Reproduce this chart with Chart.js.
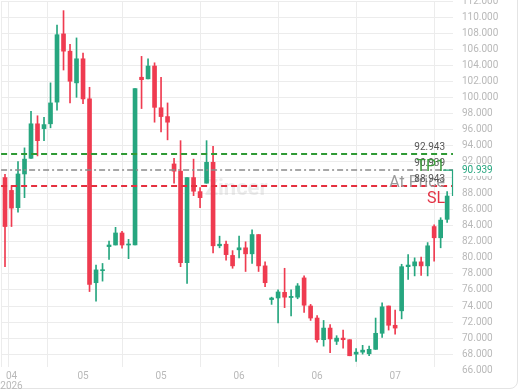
<!DOCTYPE html>
<html>
<head>
<meta charset="utf-8">
<script src="https://cdn.jsdelivr.net/npm/chart.js@4.4.1/dist/chart.umd.min.js"></script>
<style>
  html, body { margin: 0; padding: 0; background: #fff; }
  #frame { position: relative; width: 520px; height: 390px; overflow: hidden; }
  #card { position: absolute; left: -12px; top: -12px; width: 530px; height: 401px; border: 1px solid #e4e4e4; border-radius: 8px; box-sizing: border-box; }
  #wrap { position: absolute; left: 0; top: -14px; width: 520px; height: 410px; }
</style>
</head>
<body>
<div id="frame">
  <div id="card"></div>
  <div id="wrap"><canvas id="chart"></canvas></div>
</div>
<script>
// candles, left to right
const OPEN  = [90.0, 88.4, 86.25, 90.45, 92.4, 96.7, 96.1, 96.7, 99.4, 107.9, 105.75, 101.8, 104.8, 99.8, 76.9, 78.4, 81.4, 81.6, 83.1, 81.6,
               81.6, 102.5, 102.3, 103.9, 98.7, 97.6, 91.7, 90.8, 79.4, 90.0, 88.25, 89.3, 91.9, 81.5, 81.7, 80.3, 81.0, 81.25, 80.5, 82.9,
               79.0, 74.8, 75.0, 75.7, 75.05, 75.1, 77.5, 74.0, 72.5, 69.8, 71.25, 69.6, 70.0, 69.8, 68.0, 68.25, 68.05, 68.6, 70.6, 74.0,
               71.6, 73.4, 78.9, 79.0, 79.5, 79.0, 83.9, 82.5, 84.8];
const HIGH  = [90.4, 89.0, 92.0, 93.7, 98.25, 97.7, 97.5, 101.8, 109.0, 110.8, 106.6, 107.4, 105.5, 101.25, 79.1, 79.3, 82.1, 83.8, 83.3, 82.3,
               101.1, 105.1, 104.8, 104.3, 102.5, 99.3, 92.4, 94.6, 90.0, 92.3, 88.75, 94.6, 93.9, 82.7, 82.1, 80.9, 82.7, 82.0, 83.5, 82.9,
               79.5, 75.1, 76.0, 78.7, 76.0, 76.8, 77.75, 74.2, 72.8, 72.2, 71.7, 70.3, 71.0, 69.8, 68.7, 69.1, 69.0, 72.5, 74.4, 74.0,
               73.5, 79.2, 80.4, 80.0, 80.1, 81.9, 84.1, 85.0, 88.25];
const LOW   = [78.9, 83.9, 85.7, 87.5, 92.4, 92.7, 94.6, 96.2, 98.4, 103.4, 99.3, 100.0, 99.2, 75.8, 74.6, 77.1, 79.8, 81.6, 81.2, 79.9,
               81.6, 98.6, 102.3, 96.9, 95.7, 94.7, 89.3, 78.9, 76.8, 87.75, 86.25, 89.3, 80.6, 81.25, 79.7, 78.7, 80.0, 78.3, 79.3, 78.3,
               76.4, 74.2, 71.9, 73.8, 72.75, 74.9, 73.2, 72.2, 69.5, 69.0, 68.2, 69.2, 68.75, 67.8, 67.1, 68.0, 67.8, 68.6, 70.1, 71.0,
               70.5, 72.4, 77.3, 77.75, 77.8, 77.75, 79.6, 81.25, 84.4];
const CLOSE = [83.9, 86.2, 90.45, 92.3, 96.7, 94.6, 96.6, 99.3, 107.8, 105.75, 102.0, 104.8, 99.8, 76.7, 78.5, 78.5, 81.6, 83.1, 81.6, 81.7,
               101.1, 102.2, 103.9, 98.75, 97.6, 96.9, 90.8, 79.4, 90.0, 88.3, 87.5, 91.9, 81.5, 81.7, 80.4, 79.0, 81.25, 80.5, 82.9, 79.0,
               76.9, 75.0, 75.75, 75.1, 75.2, 76.5, 74.1, 72.5, 69.8, 71.25, 69.9, 70.0, 69.8, 67.8, 68.25, 68.5, 68.6, 70.6, 73.9, 71.6,
               71.25, 78.9, 79.1, 79.5, 79.0, 81.5, 82.5, 84.7, 87.7];

const X_TICKS  = [0, 1, 12, 24, 36, 48, 60];
const X_LABELS = ['', ['04', '2026'], '05', '05', '06', '06', '07'];
const Y_TICKS  = [66, 68, 70, 72, 74, 76, 78, 80, 82, 84, 86, 88, 90, 92, 94, 96, 98, 100, 102, 104, 106, 108, 110, 112];

// order lines: take profit, current price, stop loss
const LEVEL_PRICES = [92.943, 90.939, 88.943];
const LEVEL_NAMES  = ['TP1', 'At Price', 'SL'];
const CURRENT_PRICE = 90.939;

const UP = '#26a67f';
const DOWN = '#ef3b50';
const GRID = '#ececec';
const TICK = '#b9b9b9';
const LEVEL_STYLE = [
    { color: '#2f9a35', dash: [6, 4], width: 2, name: '#3a9a3a' },
    { color: '#8a8a8a', dash: [6, 3, 2, 3], width: 1.5, name: '#9a9a9a' },
    { color: '#e5303f', dash: [6, 4], width: 2, name: '#e23345' }
];

const idx = OPEN.map((_, i) => i);
const colors = idx.map(i => CLOSE[i] >= OPEN[i] ? UP : DOWN);

const overlay = {
    id: 'overlay',
    beforeDatasetsDraw(chart) {
        const { ctx, chartArea: a } = chart;
        ctx.save();
        ctx.font = 'bold 22px Roboto';
        ctx.fillStyle = 'rgba(180,180,180,0.25)';
        ctx.textAlign = 'center';
        ctx.textBaseline = 'middle';
        ctx.fillText('Zincer', a.left + 235, a.top + 188);
        ctx.restore();
    },
    afterDatasetsDraw(chart) {
        const { ctx, chartArea: a, scales: { y } } = chart;
        ctx.save();
        LEVEL_PRICES.forEach((p, k) => {
            const st = LEVEL_STYLE[k];
            const py = Math.round(y.getPixelForValue(p));
            ctx.beginPath();
            ctx.setLineDash(st.dash);
            ctx.lineWidth = st.width;
            ctx.strokeStyle = st.color;
            ctx.moveTo(a.left, py);
            ctx.lineTo(a.right, py);
            ctx.stroke();
        });
        ctx.setLineDash([]);
        ctx.textAlign = 'right';
        ctx.textBaseline = 'middle';
        const value = k => {
            ctx.font = '10px Roboto';
            ctx.fillStyle = '#555';
            ctx.fillText(LEVEL_PRICES[k].toFixed(3), a.right - 8, y.getPixelForValue(LEVEL_PRICES[k]) - 6.5);
        };
        const name = k => {
            ctx.font = '16px Roboto';
            ctx.fillStyle = LEVEL_STYLE[k].name;
            ctx.fillText(LEVEL_NAMES[k], a.right - 8, y.getPixelForValue(LEVEL_PRICES[k]) + 13);
        };
        value(1); name(0); name(1); value(0); value(2); name(2);
        // live bracket from current price to last close
        const top = y.getPixelForValue(CURRENT_PRICE);
        const bot = y.getPixelForValue(CLOSE[CLOSE.length - 1]);
        ctx.strokeStyle = UP;
        ctx.lineWidth = 1.2;
        ctx.beginPath();
        ctx.moveTo(a.right - 10, top);
        ctx.lineTo(a.right - 0.5, top);
        ctx.lineTo(a.right - 0.5, bot);
        ctx.stroke();
        ctx.restore();
    },
    afterDraw(chart) {
        const { ctx, chartArea: a, scales: { y } } = chart;
        const py = y.getPixelForValue(CURRENT_PRICE);
        ctx.save();
        ctx.fillStyle = '#fff';
        ctx.fillRect(a.right + 5, py - 6, 50, 12);
        ctx.font = '10px Roboto';
        ctx.fillStyle = UP;
        ctx.textAlign = 'left';
        ctx.textBaseline = 'middle';
        ctx.fillText(CURRENT_PRICE.toFixed(3), a.right + 9, py);
        ctx.restore();
    }
};

new Chart(document.getElementById('chart'), {
    type: 'bar',
    data: {
        datasets: [
            {
                data: idx.map(i => ({ x: i, y: [LOW[i], HIGH[i]] })),
                backgroundColor: colors,
                barThickness: 1,
                grouped: false,
                order: 2
            },
            {
                data: idx.map(i => ({ x: i, y: [OPEN[i], CLOSE[i]] })),
                backgroundColor: colors,
                barThickness: 4,
                minBarLength: 1,
                grouped: false,
                order: 1
            }
        ]
    },
    options: {
        animation: false,
        responsive: true,
        maintainAspectRatio: false,
        layout: { padding: 0 },
        plugins: { legend: { display: false }, tooltip: { enabled: false } },
        scales: {
            x: {
                type: 'linear',
                min: -0.6,
                max: 68.9,
                offset: false,
                afterBuildTicks: s => { s.ticks = X_TICKS.map(v => ({ value: v })); },
                ticks: {
                    callback: (v, i) => X_LABELS[i],
                    color: TICK,
                    font: { family: 'Roboto', size: 10, lineHeight: 0.95 },
                    padding: 5,
                    maxRotation: 0,
                    autoSkip: false
                },
                grid: { color: GRID, drawTicks: false },
                border: { display: false }
            },
            y: {
                position: 'right',
                min: 66.4,
                max: 112,
                afterBuildTicks: s => { s.ticks = Y_TICKS.map(v => ({ value: v })); },
                afterFit: s => { s.width = 67; },
                ticks: {
                    callback: v => v.toFixed(3),
                    color: TICK,
                    font: { family: 'Roboto', size: 10 },
                    padding: 9
                },
                grid: {
                    color: c => (c.tick && c.tick.value < 66.4) ? 'rgba(0,0,0,0)' : GRID,
                    drawTicks: false
                },
                border: { display: false }
            }
        }
    },
    plugins: [overlay]
});
</script>
</body>
</html>
